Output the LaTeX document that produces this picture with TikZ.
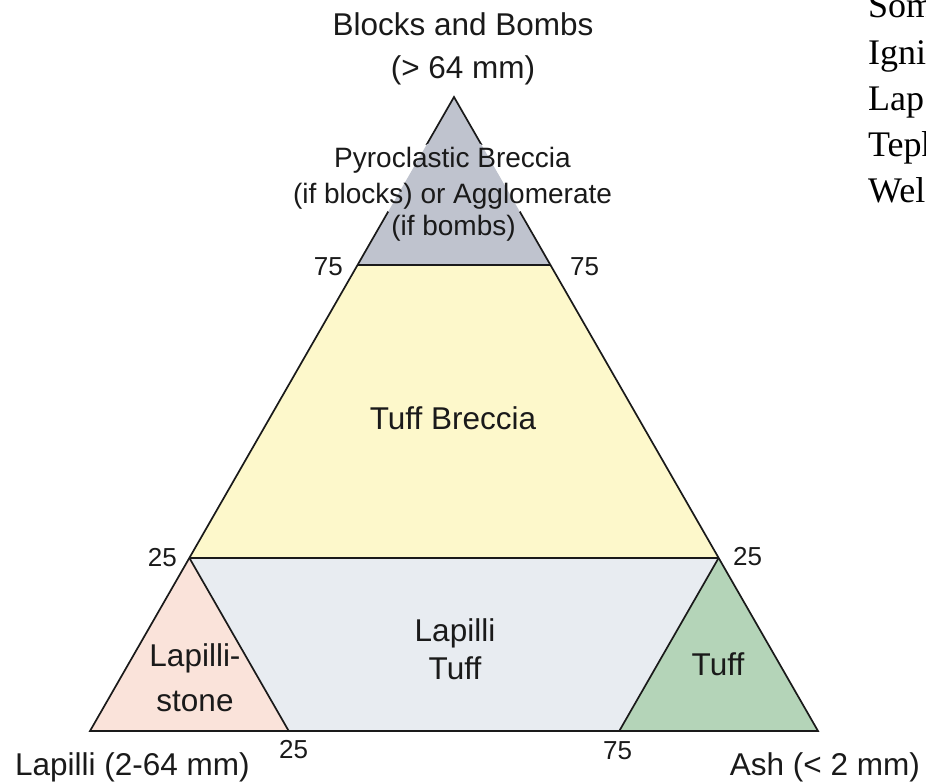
\documentclass[tikz,border=0pt]{standalone}
\usepackage{fontspec}
\setmainfont{Liberation Sans}
\newfontfamily\pageserif{Liberation Serif}
\usetikzlibrary{calc,backgrounds}
\definecolor{ternBlocks}{HTML}{BFC3CE}
\definecolor{ternBreccia}{HTML}{FDF8CB}
\definecolor{ternLapTuff}{HTML}{E8ECF1}
\definecolor{ternStone}{HTML}{FAE3DA}
\definecolor{ternTuff}{HTML}{B4D4B8}
\definecolor{ternInk}{HTML}{1A1A1A}
\tikzset{
  % Outline of the triangle and of its fields.
  tern/edge/.style={draw=ternInk, line width=1.7pt, line join=miter},
  % Field and corner names.
  tern/field/.style={font=\fontsize{31.5}{38}\selectfont, text=ternInk,
    inner sep=0pt, align=center},
  % The long name in the top field, a bit smaller.
  tern/small/.style={tern/field, font=\fontsize{28}{34}\selectfont, inner sep=2pt},
  % Percent marks along the sides.
  tern/tick/.style={font=\fontsize{26}{30}\selectfont, text=ternInk, inner sep=0pt},
  % Text of the page beside the figure, cut at the edge.
  tern/web/.style={font=\pageserif\fontsize{36}{44}\selectfont, text=black, inner sep=0pt},
}

\begin{document}
\begin{tikzpicture}[x=1pt,y=-1pt]
  \clip (0,0) rectangle (926,784);

  % corners and the 75 / 25 rows
  \coordinate (top)     at (454,97);
  \coordinate (lapilli) at (90,731);
  \coordinate (ash)     at (818,731);
  \coordinate (l75) at ($(top)!0.265!(lapilli)$);
  \coordinate (r75) at ($(top)!0.265!(ash)$);
  \coordinate (l25) at ($(top)!0.727!(lapilli)$);
  \coordinate (r25) at ($(top)!0.727!(ash)$);
  \coordinate (b25) at ($(lapilli)!0.273!(ash)$);
  \coordinate (b75) at ($(ash)!0.273!(lapilli)$);

  % corner names
  \node[tern/field, font=\fontsize{31.5}{43}\selectfont] (blocks) at (463,48.5)
       {Blocks and Bombs\\(> 64 mm)};
  \node[tern/field, anchor=base west] (lapname) at (15,775) {Lapilli (2-64 mm)};
  \node[tern/field, anchor=base east] (ashname) at (920,775) {Ash (< 2 mm)};

  % field names
  \node[tern/small, anchor=base] (pyroA) at (452.5,167) {Pyroclastic Breccia};
  \node[tern/small, anchor=base] (pyroB) at (452.5,203) {(if blocks) or Agglomerate};
  \node[tern/small, anchor=base] (pyroC) at (453.5,235) {(if bombs)};
  \node[tern/field, anchor=base] (breccia) at (453,429) {Tuff Breccia};
  \node[tern/field] (laptuff) at (455,649.7) {Lapilli\\Tuff};
  \node[tern/field, font=\fontsize{31.5}{45}\selectfont] (stone) at (195,678.2)
       {Lapilli-\\stone};
  \node[tern/field, anchor=base] (tuff) at (718,675) {Tuff};

  % percent marks
  \node[tern/tick, anchor=base east] (t75l) at (343,275) {75};
  \node[tern/tick, anchor=base west] (t75r) at (570,275) {75};
  \node[tern/tick, anchor=base east] (t25l) at (177,566) {25};
  \node[tern/tick, anchor=base west] (t25r) at (733,565) {25};
  \node[tern/tick, anchor=base west] (t25b) at (279,758) {25};
  \node[tern/tick, anchor=base west] (t75b) at (603,759) {75};

  % page text on the right
  \foreach \w [count=\i from 0] in {Som,Igni,Lap,Teph,Wel}
    \node[tern/web, anchor=base west] (web\i) at (868,{18+46*\i}) {\w};

  \begin{scope}[on background layer]
    \fill[ternBlocks]  (top) -- (l75) -- (r75) -- cycle;
    \fill[ternBreccia] (l75) -- (r75) -- (r25) -- (l25) -- cycle;
    \fill[ternLapTuff] (l25) -- (r25) -- (b75) -- (b25) -- cycle;
    \fill[ternStone]   (l25) -- (lapilli) -- (b25) -- cycle;
    \fill[ternTuff]    (r25) -- (b75) -- (ash) -- cycle;

    \draw[tern/edge] (top) -- (lapilli) -- (ash) -- cycle;
    \draw[tern/edge] (l75) -- (r75) (l25) -- (r25);
    \draw[tern/edge] (l25) -- (b25) (r25) -- (b75);

    % the sides stop under the long name
    \fill[white] (pyroB.south west) rectangle (pyroB.east |- pyroA.north);
    \begin{scope}
      \clip (pyroB.south west) rectangle (pyroB.east |- pyroA.north);
      \fill[ternBlocks] (top) -- (l75) -- (r75) -- cycle;
    \end{scope}
  \end{scope}
\end{tikzpicture}
\end{document}
